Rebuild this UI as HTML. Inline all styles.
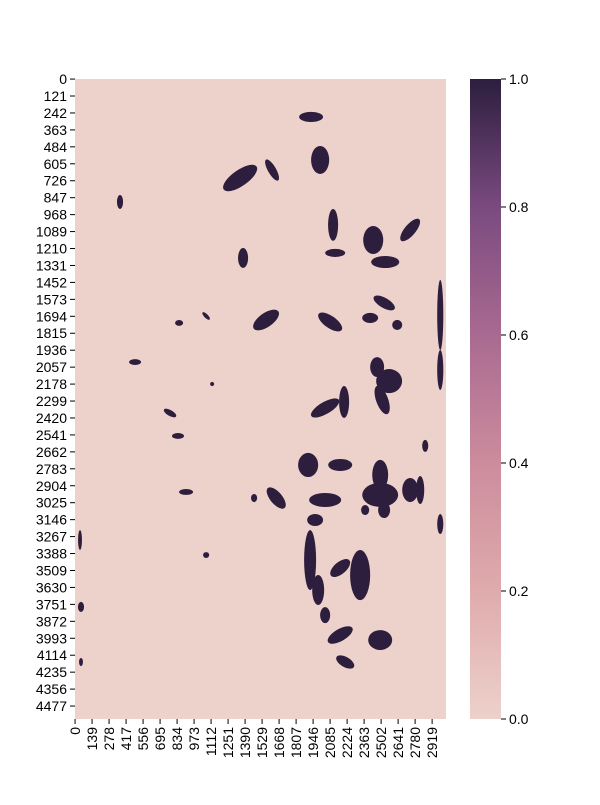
<!DOCTYPE html>
<html><head><meta charset="utf-8"><style>
body{margin:0;background:#fff;}
svg text{font-family:"Liberation Sans",sans-serif;font-size:14px;fill:#000;}
</style></head>
<body>
<svg id="chart" width="600" height="800" xmlns="http://www.w3.org/2000/svg">
<defs><linearGradient id="cb" x1="0" y1="1" x2="0" y2="0">
<stop offset="0" stop-color="#edd1cb"/><stop offset="0.2" stop-color="#dfabac"/><stop offset="0.4" stop-color="#cc8c9d"/><stop offset="0.6" stop-color="#a96a91"/><stop offset="0.8" stop-color="#7a4a7f"/><stop offset="1" stop-color="#2d1e3e"/></linearGradient></defs>
<rect x="75" y="79" width="371" height="640" fill="#edd1cb"/>
<g id="blobs"></g>
<g id="xt"></g>
<g id="yt"></g>
<rect x="470" y="79" width="31" height="640" fill="url(#cb)"/>
<g id="ct"></g>
</svg>
<script>
const nCols = 3033, nRows = 4570;
const xTicks = [0,139,278,417,556,695,834,973,1112,1251,1390,1529,1668,1807,1946,2085,2224,2363,2502,2641,2780,2919];
const yTicks = [];
for (let i = 0; i <= 37; i++) yTicks.push(i * 121);
const cbTicks = [0.0,0.2,0.4,0.6,0.8,1.0];
const blobX  = [1930,1350,1611,2004,368,2110,2127,2438,2536,2740,1374,2528,2413,2634,1562,2086,2986,2986,491,851,1072,2470,2568,2511,2045,2200,777,842,2863,1906,2168,2495,2495,2740,2822,908,1645,2045,1963,1922,1988,2168,2331,2045,2168,2209,2495,2986,41,49,1072,1464,2372,2527,1121,49];
const blobY  = [271,707,650,578,878,1042,1242,1150,1307,1078,1278,1599,1706,1756,1721,1735,1685,2078,2021,1742,1692,2057,2157,2292,2349,2306,2385,2549,2620,2756,2756,2827,2970,2935,2935,2949,2992,3006,3149,3435,3649,3492,3542,3828,3970,4163,4006,3178,3292,3770,3399,2992,3078,3078,2178,4163];
const blobRX = [98,164,33,74,25,41,82,82,115,45,41,98,65,41,123,115,25,25,49,33,41,57,106,49,131,41,57,49,25,82,98,65,147,65,33,57,49,131,65,49,49,98,82,41,115,82,98,25,16,25,25,25,33,49,16,16];
const blobRY = [36,57,86,100,50,114,29,100,43,100,71,36,36,36,50,43,250,143,21,21,14,71,86,107,43,114,21,21,43,86,43,107,86,86,100,21,93,50,43,214,107,43,179,57,43,36,71,71,71,36,21,29,36,57,14,29];
const blobRot = [0,-35,-30,0,0,0,0,0,0,40,0,30,0,0,-35,35,0,0,0,0,45,0,0,-20,-30,0,30,0,0,0,0,0,0,0,0,0,-40,0,0,0,0,-40,0,0,-30,30,0,0,0,0,0,0,0,0,0,0];

const X0=75,X1=446,Y0=79,Y1=719;
const xs = v => X0 + v*(X1-X0)/nCols;
const ys = v => Y0 + v*(Y1-Y0)/nRows;
const NS="http://www.w3.org/2000/svg";
function mk(t,a,p){const e=document.createElementNS(NS,t);for(const k in a)e.setAttribute(k,a[k]);p.appendChild(e);return e;}
const bg=document.getElementById('blobs');
for(let i=0;i<blobX.length;i++){
  const cx=xs(blobX[i]),cy=ys(blobY[i]);
  const e=mk('ellipse',{cx:cx,cy:cy,rx:blobRX[i]*(X1-X0)/nCols,ry:blobRY[i]*(Y1-Y0)/nRows,fill:'#2d1e3e',transform:`rotate(${blobRot[i]} ${cx} ${cy})`},bg);
  
  
}
const xt=document.getElementById('xt');
xTicks.forEach(v=>{
  const x=xs(v+0.5)+0;
  mk('line',{x1:x,x2:x,y1:Y1,y2:Y1+5,stroke:'#000','stroke-width':1},xt);
  const t=mk('text',{x:0,y:0,'text-anchor':'end',transform:`translate(${x+5},${Y1+8}) rotate(-90)`},xt);
  t.textContent=v;
  
  
});
const yt=document.getElementById('yt');
yTicks.forEach(v=>{
  const y=ys(v+0.5);
  mk('line',{x1:X0-5,x2:X0,y1:y,y2:y,stroke:'#000','stroke-width':1},yt);
  const t=mk('text',{x:X0-8,y:y+5,'text-anchor':'end'},yt);
  t.textContent=v;
  
  
});
const ct=document.getElementById('ct');
cbTicks.forEach(v=>{
  const y=Y1-v*(Y1-Y0);
  mk('line',{x1:501,x2:506,y1:y,y2:y,stroke:'#000','stroke-width':1},ct);
  const t=mk('text',{x:509,y:y+5},ct);
  t.textContent=v.toFixed(1);
  
  
});
</script>
</body></html>
